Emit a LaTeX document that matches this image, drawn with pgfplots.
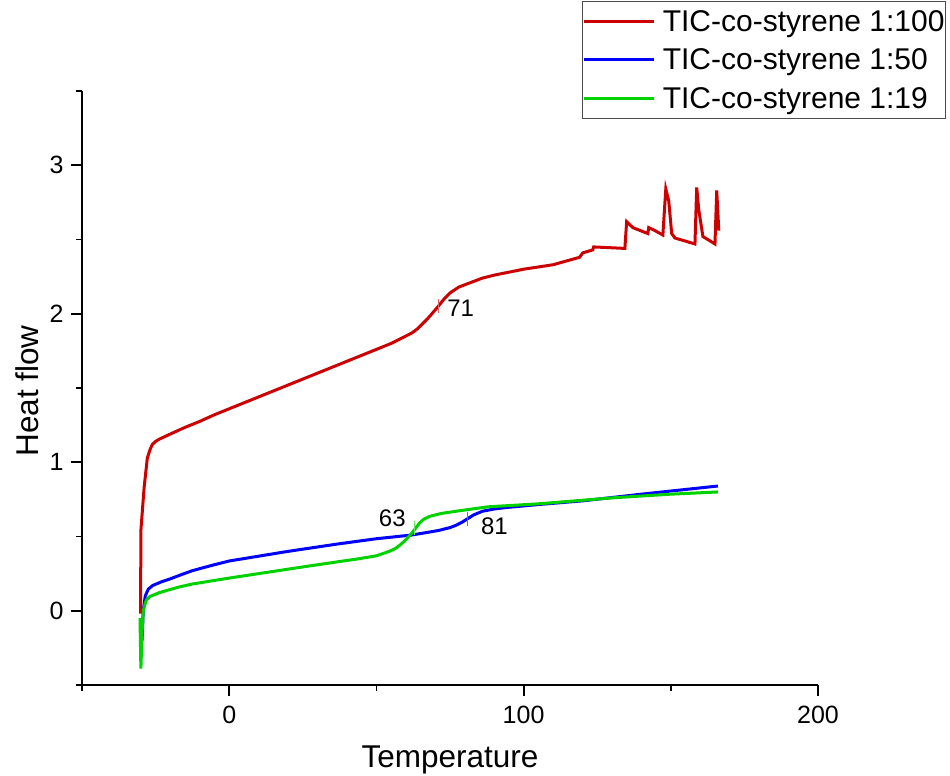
\documentclass[border=0pt]{standalone}
\usepackage{pgfplots}
\pgfplotsset{compat=1.18}
\usepackage{fontspec}
\setmainfont{Liberation Sans}
\definecolor{cred}{RGB}{204,0,0}
\definecolor{cblue}{RGB}{0,0,255}
\definecolor{cgreen}{RGB}{0,210,0}
\begin{document}
\begin{tikzpicture}
\useasboundingbox (0,0) rectangle (950bp,776bp);
\begin{axis}[
 at={(82bp,91bp)}, anchor=south west,
 scale only axis, width=736bp, height=594bp,
 xmin=-50, xmax=200, ymin=-0.5, ymax=3.5,
 axis lines=left, axis line style={-, line width=1.8bp, black},
 xtick={0,100,200}, minor xtick={-50,50,150},
 ytick={0,1,2,3}, minor ytick={-0.5,0.5,1.5,2.5,3.5},
 tick align=outside, major tick length=11bp, minor tick length=6bp,
 major tick style={black, line width=1.8bp},
 minor tick style={black, line width=1.8bp},
 tick label style={font=\fontsize{25bp}{30bp}\selectfont},
 xticklabel style={yshift=-7bp},
 yticklabel style={xshift=-4bp},
 /pgf/number format/assume math mode=true,
 xlabel={Temperature}, ylabel={Heat flow},
 label style={font=\fontsize{31.5bp}{38bp}\selectfont},
 xlabel style={at={(axis description cs:0.5,-0.126)}, anchor=center},
 ylabel style={at={(axis description cs:-0.0747,0.495)}, anchor=center},
 legend style={at={(1.174,1.152)}, anchor=north east, draw=black!70, line width=1bp,
   font=\fontsize{30bp}{36bp}\selectfont, inner xsep=0bp, inner ysep=8bp,
   row sep=14bp, nodes={inner sep=1bp}},
 legend cell align=left,
 legend image code/.code={\draw[#1, line width=3bp] (0bp,0bp) -- (70bp,0bp); \path (76bp,0bp);},
]
\addplot[cred, line width=3bp] coordinates {
(-30.1,-0.02) (-30.0,0.54) (-28.9,0.83) (-27.8,1.03) (-26.8,1.09) (-26.1,1.12) (-25,1.14) (-23.8,1.155)
(-20,1.19) (-15,1.235) (-10,1.275) (-5,1.32) (0,1.36) (20,1.52) (40,1.68) (50,1.76) (55,1.80) (58,1.83) (62,1.87) (64,1.90) (66,1.94)
(68,1.98) (71,2.05) (73,2.10) (75,2.14) (78,2.18) (82,2.21) (86,2.24) (90,2.26) (100,2.30) (110,2.33) (119.0,2.38)
(120.1,2.41) (123.5,2.43) (123.8,2.45) (134.4,2.44) (135.0,2.62) (137.1,2.58)
(142.2,2.54) (142.5,2.58) (144.6,2.56) (147.3,2.53) (148.3,2.84) (149.3,2.76)
(150.3,2.54) (151.4,2.51) (158.2,2.47) (158.8,2.85) (159.5,2.70) (160.9,2.52)
(165.0,2.47) (165.6,2.83) (166.3,2.56)
};
\addlegendentry{TIC-co-styrene 1:100}
\addplot[cblue, line width=3bp] coordinates {
(-30,-0.05) (-29.6,-0.2) (-29.2,0.0) (-28.5,0.1) (-27.5,0.145) (-26,0.17) (-23,0.195)
(-20,0.215) (-16,0.245) (-12.5,0.27) (-6,0.305) (0,0.335) (20,0.40) (37,0.45) (50,0.485) (62,0.51)
(71,0.54) (75,0.56) (77,0.575) (79,0.595) (81,0.62) (83,0.645) (86,0.67) (90,0.685) (94,0.695) (105,0.715) (120,0.74)
(140,0.785) (166,0.84)
};
\addlegendentry{TIC-co-styrene 1:50}
\addplot[cgreen, line width=3bp] coordinates {
(-30.3,-0.05) (-30.0,-0.39) (-29.6,-0.15) (-29.2,0.0) (-28.2,0.07) (-27,0.095) (-24,0.12)
(-21.5,0.135) (-17,0.16) (-12.5,0.18) (0,0.22) (10,0.25) (25,0.295) (37,0.33) (44,0.35)
(50,0.37) (54.4,0.40) (56.5,0.42) (58.5,0.45) (60.3,0.485) (61.9,0.52) (63.3,0.555) (64.6,0.59) (66,0.615) (68,0.635)
(72,0.655) (77,0.67) (88,0.70) (105,0.72) (130,0.76) (150,0.785) (166,0.80)
};
\addlegendentry{TIC-co-styrene 1:19}
\addplot[cred!60, only marks, mark=|, mark size=7bp, mark options={line width=1bp}, forget plot] coordinates {(71,2.05)};
\addplot[cblue!60, only marks, mark=|, mark size=7bp, mark options={line width=1bp}, forget plot] coordinates {(81,0.62)};
\addplot[cgreen!60, only marks, mark=|, mark size=7bp, mark options={line width=1bp}, forget plot] coordinates {(63,0.555)};
\node[font=\fontsize{24bp}{28bp}\selectfont] at (axis cs:78.6,2.04) {71};
\node[font=\fontsize{24bp}{28bp}\selectfont] at (axis cs:55.4,0.62) {63};
\node[font=\fontsize{24bp}{28bp}\selectfont] at (axis cs:90.1,0.57) {81};
\end{axis}
\end{tikzpicture}
\end{document}
